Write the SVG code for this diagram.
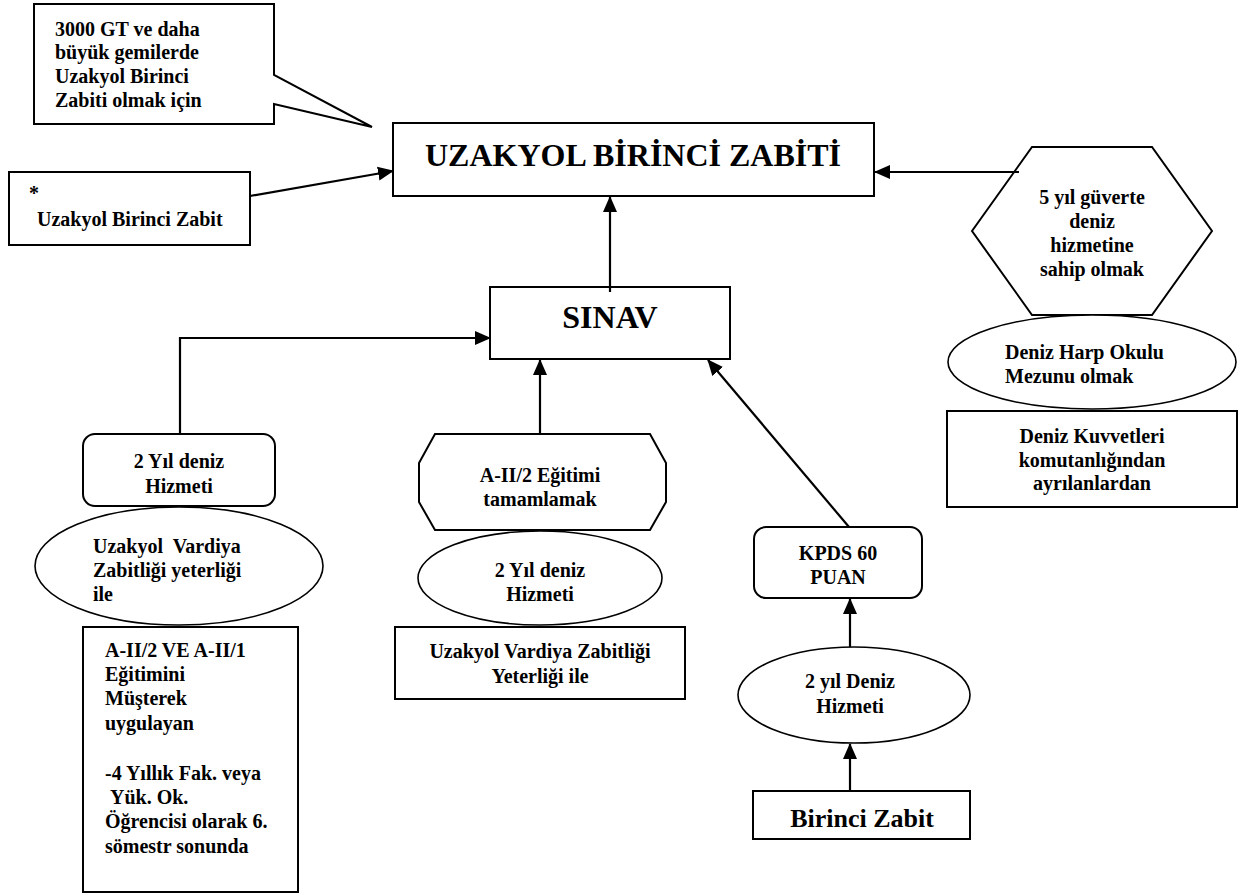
<svg xmlns="http://www.w3.org/2000/svg" width="1253" height="895" viewBox="0 0 1253 895">
<style>
.s{fill:#fff;stroke:#000;stroke-width:2}
.e{fill:#fff;stroke:#000;stroke-width:1.6}
text{font-family:'Liberation Serif','DejaVu Serif',serif;font-weight:700;font-size:20px;fill:#000}
.c{text-anchor:middle}
.big{font-size:32px}
.mid{font-size:26px}
.ln{fill:none;stroke:#000;stroke-width:2.2}
</style>
<defs>
<marker id="ah" markerUnits="userSpaceOnUse" markerWidth="16" markerHeight="16" viewBox="0 0 16 16" refX="15" refY="8" orient="auto">
<path d="M0,1 L16,8 L0,15 Z" fill="#000"/>
</marker>
</defs>
<rect width="1253" height="895" fill="#fff"/>

<g id="callout" font-family="Liberation Serif">
<path class="s" d="M34,4 H274 V75 L372,127 L274,104 V124 H34 Z"/>
<text x="55" y="36">3000 GT ve daha</text>
<text x="55" y="59">büyük gemilerde</text>
<text x="55" y="83">Uzakyol Birinci</text>
<text x="55" y="107">Zabiti olmak için</text>
</g>

<g id="title">
<rect class="s" x="393" y="123" width="481" height="73"/>
<text class="c big" x="633" y="166">UZAKYOL BİRİNCİ ZABİTİ</text>
</g>

<g id="star">
<rect class="s" x="9" y="172" width="241" height="73"/>
<text x="29" y="200">*</text>
<text x="37" y="226">Uzakyol Birinci Zabit</text>
</g>

<g id="hexagon">
<polygon class="s" points="972,231 1032,147 1152,147 1212,231 1152,315 1032,315"/>
<text class="c" x="1092" y="204">5 yıl güverte</text>
<text class="c" x="1092" y="228">deniz</text>
<text class="c" x="1092" y="252">hizmetine</text>
<text class="c" x="1092" y="276">sahip olmak</text>
</g>

<g id="dho">
<ellipse class="e" cx="1092" cy="362" rx="144" ry="47"/>
<text x="1005" y="359">Deniz Harp Okulu</text>
<text x="1005" y="383">Mezunu olmak</text>
</g>

<g id="dkk">
<rect class="s" x="947" y="411" width="290" height="96"/>
<text class="c" x="1092" y="443">Deniz Kuvvetleri</text>
<text class="c" x="1092" y="467">komutanlığından</text>
<text class="c" x="1092" y="490">ayrılanlardan</text>
</g>

<g id="sinav">
<rect class="s" x="490" y="287" width="240" height="72"/>
<text class="c big" x="610" y="328">SINAV</text>
</g>

<g id="left-service">
<rect class="s" x="83" y="434" width="192" height="72" rx="12"/>
<text class="c" x="179" y="468">2 Yıl deniz</text>
<text class="c" x="179" y="493">Hizmeti</text>
</g>

<g id="left-ellipse">
<ellipse class="e" cx="179" cy="566" rx="144" ry="59"/>
<text x="93" y="553" xml:space="preserve">Uzakyol  Vardiya</text>
<text x="93" y="577">Zabitliği yeterliği</text>
<text x="93" y="601">ile</text>
</g>

<g id="left-rect">
<rect class="s" x="83" y="627" width="215" height="265"/>
<text x="105" y="657">A-II/2 VE A-II/1</text>
<text x="105" y="681">Eğitimini</text>
<text x="105" y="705">Müşterek</text>
<text x="105" y="730">uygulayan</text>
<text x="105" y="780">-4 Yıllık Fak. veya</text>
<text x="110" y="804">Yük. Ok.</text>
<text x="105" y="828">Öğrencisi olarak 6.</text>
<text x="105" y="853">sömestr sonunda</text>
</g>

<g id="octagon">
<polygon class="s" points="435,434 650,434 666,463 666,502 650,530 435,530 419,502 419,463"/>
<text class="c" x="540" y="482">A-II/2 Eğitimi</text>
<text class="c" x="540" y="506">tamamlamak</text>
</g>

<g id="mid-ellipse">
<ellipse class="e" cx="540" cy="578" rx="122" ry="47"/>
<text class="c" x="540" y="577">2 Yıl deniz</text>
<text class="c" x="540" y="601">Hizmeti</text>
</g>

<g id="mid-rect">
<rect class="s" x="395" y="627" width="290" height="72"/>
<text class="c" x="540" y="658">Uzakyol Vardiya Zabitliği</text>
<text class="c" x="540" y="683">Yeterliği ile</text>
</g>

<g id="kpds">
<rect class="s" x="754" y="527" width="168" height="71" rx="12"/>
<text class="c" x="838" y="560">KPDS 60</text>
<text class="c" x="838" y="584">PUAN</text>
</g>

<g id="right-ellipse">
<ellipse class="e" cx="854" cy="695" rx="116" ry="48"/>
<text class="c" x="850" y="688">2 yıl Deniz</text>
<text class="c" x="850" y="713">Hizmeti</text>
</g>

<g id="birinci">
<rect class="s" x="753" y="791" width="217" height="48"/>
<text class="c mid" x="862" y="827">Birinci Zabit</text>
</g>

<g id="connectors">
<line class="ln" x1="250" y1="196" x2="393" y2="171" marker-end="url(#ah)"/>
<line class="ln" x1="1019" y1="172" x2="875" y2="172" marker-end="url(#ah)"/>
<line class="ln" x1="610" y1="292" x2="610" y2="197" marker-end="url(#ah)"/>
<polyline class="ln" points="180,434 180,338 490,338" marker-end="url(#ah)"/>
<line class="ln" x1="540" y1="434" x2="540" y2="360" marker-end="url(#ah)"/>
<line class="ln" x1="849" y1="527" x2="708" y2="360" marker-end="url(#ah)"/>
<line class="ln" x1="850" y1="647" x2="850" y2="599" marker-end="url(#ah)"/>
<line class="ln" x1="850" y1="791" x2="850" y2="744" marker-end="url(#ah)"/>
</g>
</svg>
